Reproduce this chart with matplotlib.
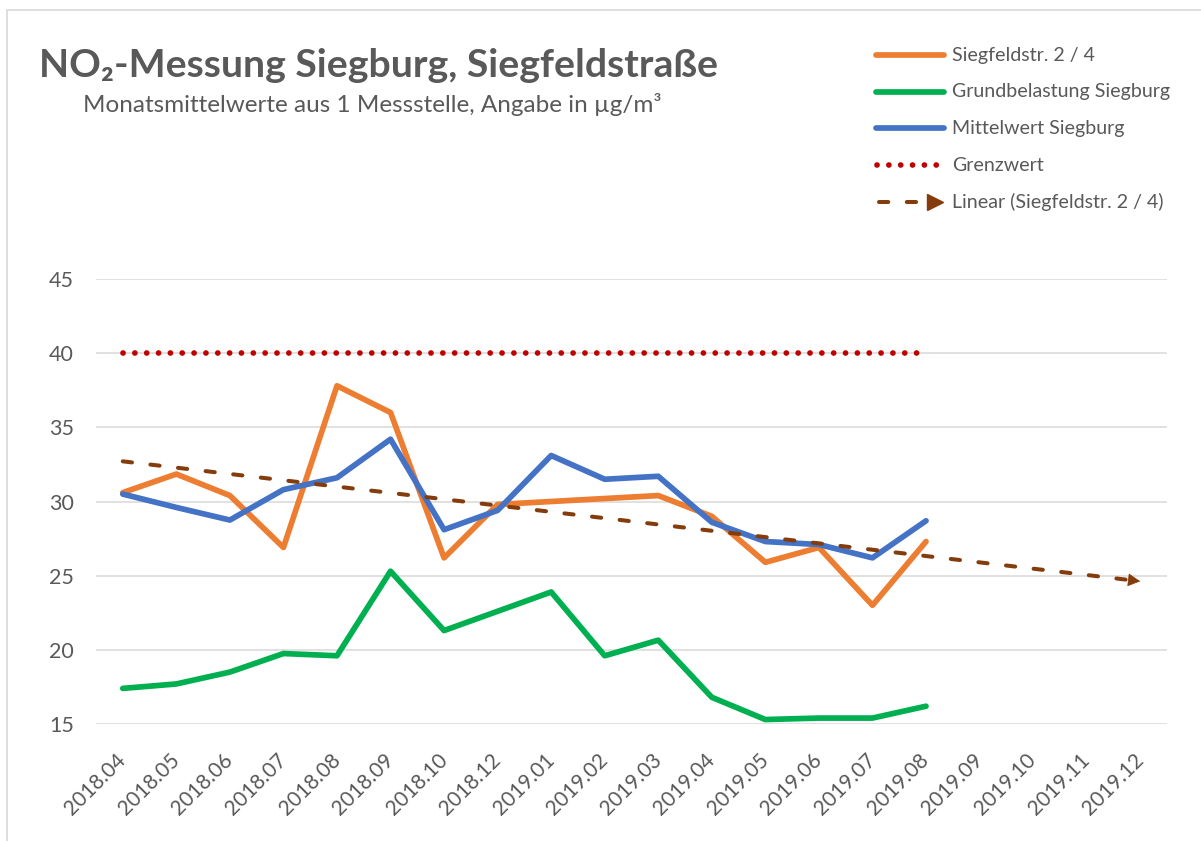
import numpy as np
import matplotlib
matplotlib.use("Agg")
import matplotlib.pyplot as plt
from matplotlib.patches import Rectangle

plt.rcParams["font.family"] = ["Lato", "DejaVu Sans"]

# --- data ---
monate = ["2018.04", "2018.05", "2018.06", "2018.07", "2018.08", "2018.09",
          "2018.10", "2018.12", "2019.01", "2019.02", "2019.03", "2019.04",
          "2019.05", "2019.06", "2019.07", "2019.08", "2019.09", "2019.10",
          "2019.11", "2019.12"]
siegfeld = [30.6, 31.85, 30.4, 26.9, 37.8, 36.0, 26.2, 29.8, 30.0, 30.2,
            30.4, 29.0, 25.9, 26.9, 23.0, 27.3]
grund = [17.4, 17.7, 18.5, 19.75, 19.6, 25.3, 21.3, 22.6, 23.9, 19.6,
         20.65, 16.8, 15.3, 15.4, 15.4, 16.2]
mittel = [30.5, 29.6, 28.75, 30.8, 31.6, 34.2, 28.1, 29.4, 33.1, 31.5,
          31.7, 28.6, 27.3, 27.1, 26.2, 28.7]
grenzwert = [40] * 16

grau = "#595959"
c_orange = "#ED7D31"
c_gruen = "#00B050"
c_blau = "#4472C4"
c_rot = "#C00000"
c_braun = "#843C0C"

W, H = 1201, 841
fig = plt.figure(figsize=(W / 100, H / 100), dpi=100)

# Rahmen des Diagrammbereichs (nur links und oben sichtbar)
fig.patches.append(Rectangle((7 / W, -0.2), 2, 1.2 - 10 / H, transform=fig.transFigure,
                             fill=False, edgecolor="#D9D9D9", lw=1.2))

ax = fig.add_axes([96 / W, 1 - 724 / H, (1167 - 96) / W, (724 - 279) / H])

x = np.arange(len(siegfeld))
xs = np.arange(len(monate))
lw = 4.1
kw = dict(lw=lw, solid_joinstyle="round", solid_capstyle="round")
ax.plot(x, siegfeld, color=c_orange, **kw, zorder=3)
ax.plot(x, grund, color=c_gruen, **kw, zorder=3)
ax.plot(x, mittel, color=c_blau, **kw, zorder=4)
ax.plot(x, grenzwert, color=c_rot, lw=4.1, linestyle=(0, (0.01, 2.07)),
        dash_capstyle="round", zorder=5)

# linearer Trend (Siegfeldstr.) mit Prognose bis 2019.12
m, b = np.polyfit(x, siegfeld, 1)
trend = m * xs + b
ax.plot(xs, trend, color=c_braun, lw=2.9, linestyle=(0, (2.3, 4.6)),
        dash_capstyle="round", zorder=6)
ax.annotate("", xy=(xs[-1], trend[-1]), xytext=(xs[-1] - 0.05, trend[-1] - m * 0.05),
            arrowprops=dict(arrowstyle="-|>,head_length=0.8,head_width=0.42",
                            color=c_braun, lw=0.5, shrinkA=0, shrinkB=0), zorder=6)

ax.set_xlim(-0.5, len(monate) - 0.5)
ax.set_ylim(15, 45)
ax.set_yticks(range(15, 46, 5))
ax.set_xticks(xs)
ax.set_xticklabels(monate, rotation=45, ha="right", va="center",
                   rotation_mode="anchor")
ax.tick_params(axis="y", length=0, pad=16, labelsize=15.5, labelcolor=grau)
ax.tick_params(axis="x", length=0, pad=24, labelsize=15, labelcolor=grau)
ax.grid(axis="y", color="#D9D9D9", lw=1.1)
ax.set_axisbelow(True)
for s in ax.spines.values():
    s.set_visible(False)

# Titel
fig.text(39 / W, 1 - 77 / H, "NO₂-Messung Siegburg, Siegfeldstraße",
         fontsize=28.3, fontweight="bold", color=grau, va="baseline")
fig.text(83 / W, 1 - 112 / H, "Monatsmittelwerte aus 1 Messstelle, Angabe in µg/m³",
         fontsize=17.5, color=grau, va="baseline")

# Legende
lax = fig.add_axes([0, 0, 1, 1])
lax.set_xlim(0, W)
lax.set_ylim(H, 0)
lax.axis("off")
eintraege = ["Siegfeldstr. 2 / 4", "Grundbelastung Siegburg", "Mittelwert Siegburg",
             "Grenzwert", "Linear (Siegfeldstr. 2 / 4)"]
ys = [55, 91.7, 128.3, 165, 201.7]
for farbe, yy in zip([c_orange, c_gruen, c_blau], ys[:3]):
    lax.plot([876, 944], [yy, yy], color=farbe, lw=lw, solid_capstyle="round")
lax.plot([877, 937], [ys[3], ys[3]], color=c_rot, lw=4.1,
         linestyle=(0, (0.01, 2.07)), dash_capstyle="round")
lax.plot([879, 920], [ys[4], ys[4]], color=c_braun, lw=2.9,
         linestyle=(0, (2.3, 4.6)), dash_capstyle="round")
lax.plot([935], [ys[4]], marker=">", color=c_braun, markersize=11)
for t, yy in zip(eintraege, ys):
    lax.text(952, yy, t, fontsize=14.1, color=grau, va="center")

fig.savefig("out.png", dpi=100)
